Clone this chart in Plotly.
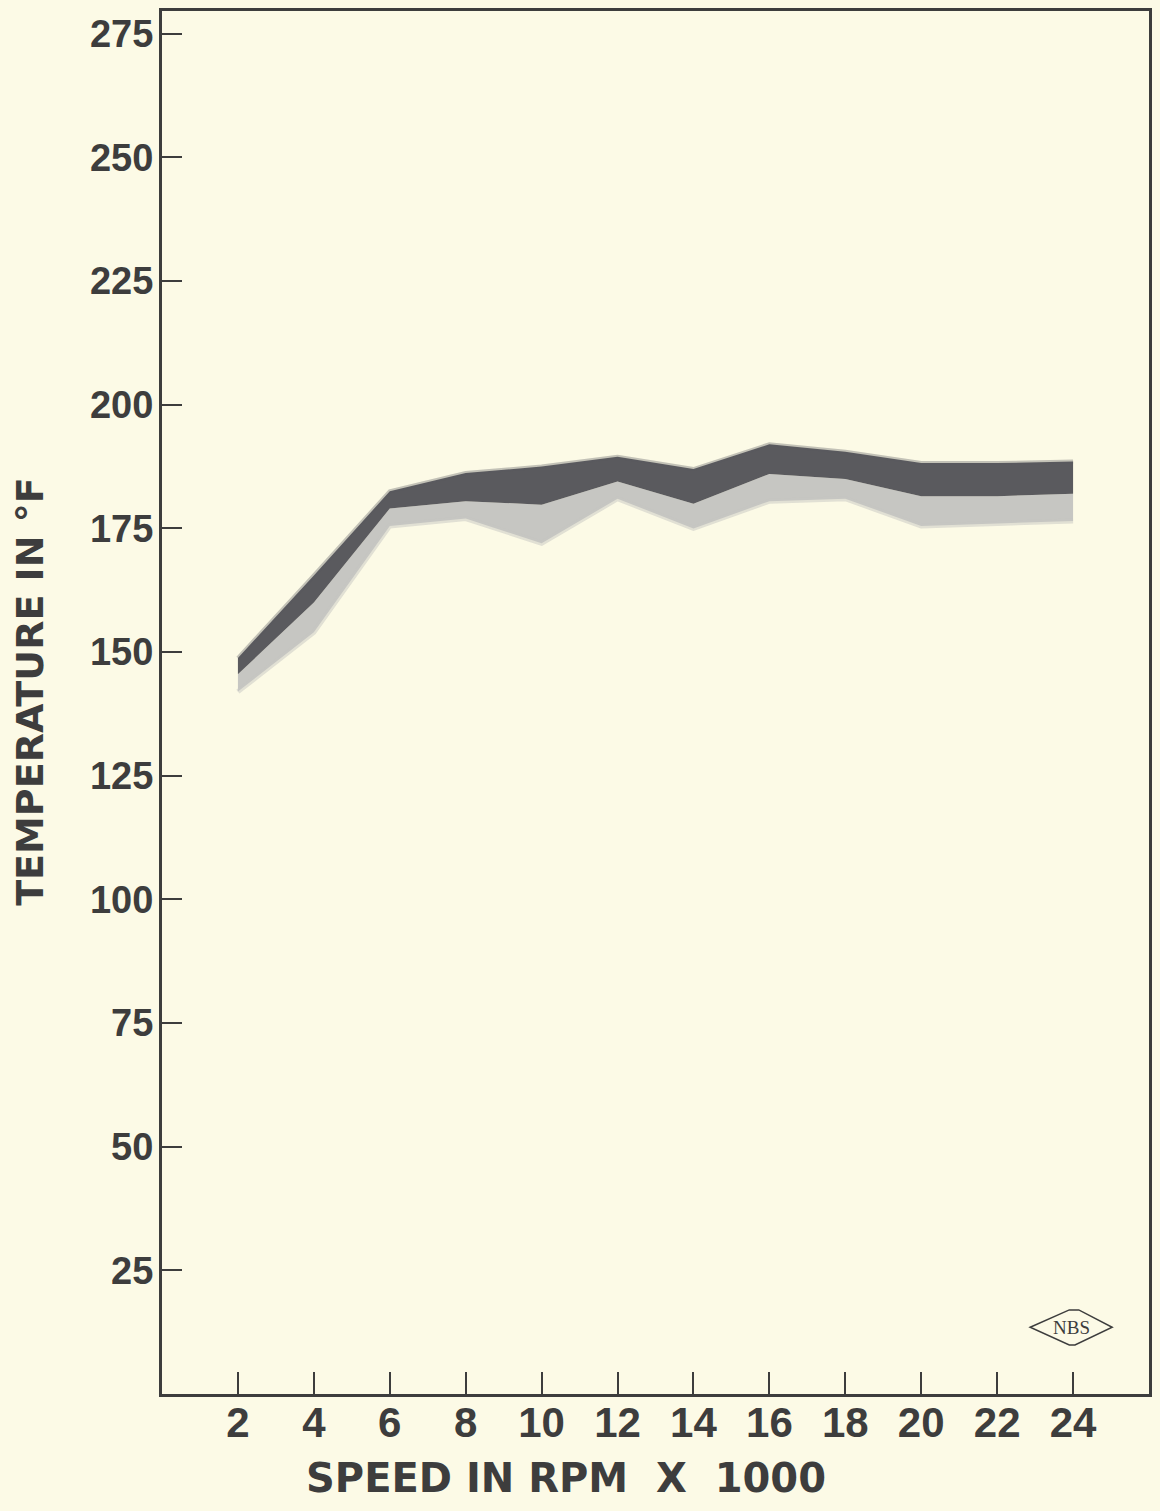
import plotly.graph_objects as go

# Speed (thousands of rpm) and the temperature band (deg F)
speed = [2, 4, 6, 8, 10, 12, 14, 16, 18, 20, 22, 24]
temp_upper = [148.8, 165.5, 182.5, 186.2, 187.5, 189.5, 187.0, 192.0, 190.5, 188.2, 188.2, 188.5]
temp_middle = [145.5, 160.0, 179.0, 180.5, 179.8, 184.5, 180.0, 186.0, 185.0, 181.5, 181.5, 182.0]
temp_lower = [142.0, 154.0, 175.5, 177.0, 172.0, 181.0, 175.0, 180.5, 181.0, 175.5, 176.0, 176.5]

x_ticks = [2, 4, 6, 8, 10, 12, 14, 16, 18, 20, 22, 24]
y_ticks = [25, 50, 75, 100, 125, 150, 175, 200, 225, 250, 275]

PAPER = "#fcfae6"
INK = "#3d3d3d"
DARK_BAND = "#5a5a5e"
LIGHT_BAND = "#c6c6c2"

fig = go.Figure()

# lower (light) band
fig.add_trace(go.Scatter(x=speed, y=temp_lower, mode="lines", line=dict(width=0),
                         showlegend=False, hoverinfo="skip"))
fig.add_trace(go.Scatter(x=speed, y=temp_middle, mode="lines", line=dict(width=0),
                         fill="tonexty", fillcolor=LIGHT_BAND,
                         showlegend=False, hoverinfo="skip"))
# upper (dark) band
fig.add_trace(go.Scatter(x=speed, y=temp_middle, mode="lines", line=dict(width=0),
                         showlegend=False, hoverinfo="skip"))
fig.add_trace(go.Scatter(x=speed, y=temp_upper, mode="lines", line=dict(width=0),
                         fill="tonexty", fillcolor=DARK_BAND,
                         showlegend=False, hoverinfo="skip"))

# soft outer edges of the printed band
fig.add_trace(go.Scatter(x=speed, y=temp_upper, mode="lines",
                         line=dict(width=4, color="rgba(90,90,94,0.35)"),
                         showlegend=False, hoverinfo="skip"))
fig.add_trace(go.Scatter(x=speed, y=temp_lower, mode="lines",
                         line=dict(width=5, color="rgba(198,198,194,0.5)"),
                         showlegend=False, hoverinfo="skip"))

axis_common = dict(
    showgrid=False, zeroline=False, showline=True, linewidth=3, linecolor=INK,
    mirror=True, ticks="inside", tickwidth=2, tickcolor=INK,
)

fig.update_xaxes(
    range=[0, 26], tickvals=x_ticks, ticktext=[str(v) for v in x_ticks],
    ticklen=22, ticklabelstandoff=-10,
    tickfont=dict(family="Liberation Sans", size=42, color=INK, weight="bold"),
    **axis_common,
)
fig.update_yaxes(
    range=[0, 279.6], tickvals=y_ticks, ticktext=[str(v) for v in y_ticks],
    ticklen=20, ticklabelstandoff=-2,
    tickfont=dict(family="Liberation Sans", size=38, color=INK, weight="bold"),
    **axis_common,
)

# axis titles
fig.add_annotation(text="TEMPERATURE IN °F", textangle=-90, xref="paper", yref="paper",
                   x=-0.1333, y=0.508, xanchor="center", yanchor="middle", showarrow=False,
                   font=dict(family="DejaVu Sans", size=38, color=INK, weight="bold"))
fig.add_annotation(text="SPEED IN RPM  X  1000", xref="paper", yref="paper",
                   x=0.409, y=-0.0606, xanchor="center", yanchor="middle", showarrow=False,
                   font=dict(family="DejaVu Sans", size=40, color=INK, weight="bold"))

# NBS mark in the lower right corner
fig.add_shape(type="path", xref="x", yref="y",
              path="M 22.87 13.5 L 23.9 17.0 L 24.15 17.0 L 25.03 13.5 L 24.05 9.9 L 23.9 9.9 Z",
              line=dict(color=INK, width=1.5), fillcolor="rgba(0,0,0,0)")
fig.add_annotation(text="NBS", x=23.95, y=13.5, xref="x", yref="y", showarrow=False,
                   font=dict(family="Liberation Serif", size=19, color=INK))

fig.update_layout(
    width=1160, height=1511,
    margin=dict(l=162, r=8, t=9, b=117),
    paper_bgcolor=PAPER, plot_bgcolor=PAPER,
    showlegend=False,
)

fig.write_html("out.html")
